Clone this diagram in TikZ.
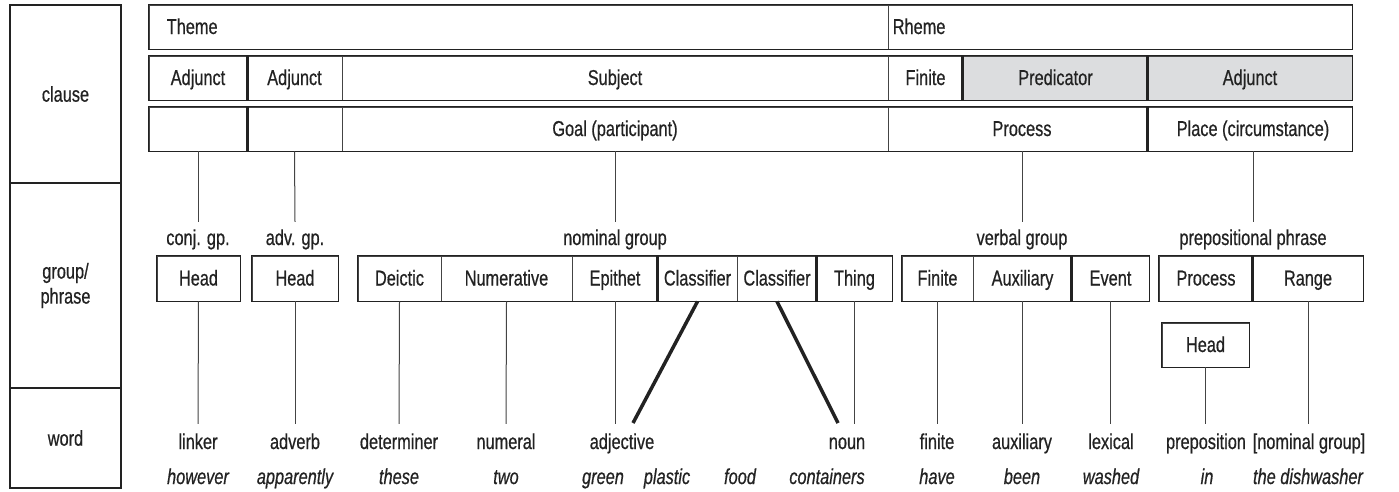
\documentclass[tikz,border=0pt]{standalone}
\usepackage{fontspec}
\setmainfont[FakeStretch=0.76,FakeBold=0.6]{Liberation Sans}
\definecolor{ink}{HTML}{222222}
\definecolor{thin}{HTML}{444444}
\definecolor{shade}{HTML}{DCDDDF}
\begin{document}
\begin{tikzpicture}[x=1pt,y=-1pt,
  font=\fontsize{21.5}{25}\selectfont,
  cell/.style={draw=thin, line width=0.9pt, inner sep=0pt, text height=14pt, text depth=0pt, text=ink},
  frame/.style={draw=ink, line width=1.5pt},
  thickdiv/.style={draw=ink, line width=3pt},
  conn/.style={draw=thin, line width=1pt},
  diag/.style={draw=ink, line width=3.5pt},
  side/.style={draw=ink, line width=1.5pt, inner sep=0pt, align=center, text=ink, minimum width=111pt},
  glbl/.style={anchor=base, text height=14pt, text depth=4pt, inner xsep=0pt, inner ysep=9pt, text=ink},
  wlbl/.style={anchor=base, text height=14pt, text depth=4pt, inner xsep=0pt, inner ysep=11pt, text=ink},
  ilbl/.style={anchor=base, inner sep=0pt, font=\fontsize{21.5}{25}\selectfont\itshape, text=ink},
  tlbl/.style={anchor=west, inner sep=0pt, text height=14pt, text depth=0pt, text=ink}
]
\useasboundingbox (0,0) rectangle (1399,491);

% left column
\node[side, minimum height=178pt] (lclause) at (65.5,94) {clause};
\node[side, minimum height=205pt] (lgroup) at (65.5,285.5) {group/\\phrase};
\node[side, minimum height=100pt] (lword) at (65.5,438) {word};

% row 1
\node[cell, minimum width=739pt, minimum height=44pt, label={[tlbl, xshift=18pt]west:Theme}] (theme) at (518.5,27) {};
\node[cell, minimum width=464pt, minimum height=44pt, label={[tlbl, xshift=5pt]west:Rheme}] (rheme) at (1120,27) {};
\draw[frame] (theme.north west) rectangle (rheme.south east);

% row 2
\node[cell, minimum width=98pt, minimum height=44pt] (adja) at (198,78) {Adjunct};
\node[cell, minimum width=95pt, minimum height=44pt] (adjb) at (294.5,78) {Adjunct};
\node[cell, minimum width=546pt, minimum height=44pt] (subj) at (615,78) {Subject};
\node[cell, minimum width=75pt, minimum height=44pt] (fin) at (925.5,78) {Finite};
\node[cell, fill=shade, minimum width=185pt, minimum height=44pt] (pred) at (1055.5,78) {Predicator};
\node[cell, fill=shade, minimum width=204pt, minimum height=44pt] (adjc) at (1250,78) {Adjunct};
\draw[frame] (adja.north west) rectangle (adjc.south east);
\draw[thickdiv] (adja.north east) -- (adja.south east);
\draw[thickdiv] (pred.north west) -- (pred.south west);
\draw[thickdiv] (adjc.north west) -- (adjc.south west);

% row 3
\node[cell, minimum width=98pt, minimum height=44pt] (ea) at (198,129) {};
\node[cell, minimum width=95pt, minimum height=44pt] (eb) at (294.5,129) {};
\node[cell, minimum width=546pt, minimum height=44pt] (goal) at (615,129) {Goal (participant)};
\node[cell, minimum width=260pt, minimum height=44pt] (proc) at (1018,129) {\hspace*{8pt}Process};
\node[cell, minimum width=204pt, minimum height=44pt] (place) at (1250,129) {\hspace*{6pt}Place (circumstance)};
\draw[frame] (ea.north west) rectangle (place.south east);
\draw[thickdiv] (ea.north east) -- (ea.south east);
\draw[thickdiv] (place.north west) -- (place.south west);

% group labels
\node[glbl] (cgp) at (198,245) {conj. gp.};
\node[glbl] (agp) at (295,245) {adv. gp.};
\node[glbl] (ngp) at (615,245) {nominal group};
\node[glbl] (vgp) at (1022,245) {verbal group};
\node[glbl] (pgp) at (1253,245) {prepositional phrase};

\draw[conn] (ea.south) -- (cgp.north);
\draw[conn] (eb.south) -- (agp.north);
\draw[conn] (goal.south) -- (ngp.north);
\draw[conn] (vgp.north |- proc.south) -- (vgp.north);
\draw[conn] (pgp.north |- place.south) -- (pgp.north);

% group boxes
\node[cell, minimum width=83pt, minimum height=45pt] (ha) at (198.5,278.5) {Head};
\draw[frame] (ha.north west) rectangle (ha.south east);
\node[cell, minimum width=86pt, minimum height=45pt] (hb) at (295,278.5) {Head};
\draw[frame] (hb.north west) rectangle (hb.south east);

\node[cell, minimum width=83pt, minimum height=45pt] (deic) at (399.5,278.5) {Deictic};
\node[cell, minimum width=131pt, minimum height=45pt] (num) at (506.5,278.5) {Numerative};
\node[cell, minimum width=86pt, minimum height=45pt] (epi) at (615,278.5) {Epithet};
\node[cell, minimum width=79pt, minimum height=45pt] (cla) at (697.5,278.5) {Classifier};
\node[cell, minimum width=80pt, minimum height=45pt] (clb) at (777,278.5) {Classifier};
\node[cell, minimum width=75pt, minimum height=45pt] (thing) at (854.5,278.5) {Thing};
\draw[frame] (deic.north west) rectangle (thing.south east);
\draw[thickdiv] (cla.north west) -- (cla.south west);
\draw[thickdiv] (thing.north west) -- (thing.south west);

\node[cell, minimum width=71pt, minimum height=45pt] (vfin) at (937.5,278.5) {Finite};
\node[cell, minimum width=99pt, minimum height=45pt] (aux) at (1022.5,278.5) {Auxiliary};
\node[cell, minimum width=77pt, minimum height=45pt] (event) at (1110.5,278.5) {Event};
\draw[frame] (vfin.north west) rectangle (event.south east);
\draw[thickdiv] (event.north west) -- (event.south west);

\node[cell, minimum width=94pt, minimum height=45pt] (pproc) at (1206,278.5) {Process};
\node[cell, minimum width=110pt, minimum height=45pt] (range) at (1308,278.5) {Range};
\draw[frame] (pproc.north west) rectangle (range.south east);
\draw[thickdiv] (range.north west) -- (range.south west);

\node[cell, minimum width=87pt, minimum height=44pt] (headp) at (1205.5,345) {Head};
\draw[frame] (headp.north west) rectangle (headp.south east);

% word labels
\node[wlbl] (wlinker) at (198,449) {linker};
\node[wlbl] (wadverb) at (295,449) {adverb};
\node[wlbl] (wdet) at (399,449) {determiner};
\node[wlbl] (wnum) at (506,449) {numeral};
\node[wlbl] (wadj) at (622,449) {adjective};
\node[wlbl] (wnoun) at (847,449) {noun};
\node[wlbl] (wfin) at (937,449) {finite};
\node[wlbl] (waux) at (1022,449) {auxiliary};
\node[wlbl] (wlex) at (1111,449) {lexical};
\node[wlbl] (wprep) at (1206,449) {preposition};
\node[wlbl] (wng) at (1309,449) {[nominal group]};

\draw[conn] (ha.south) -- (wlinker.north);
\draw[conn] (hb.south) -- (wadverb.north);
\draw[conn] (deic.south) -- (wdet.north);
\draw[conn] (num.south) -- (wnum.north);
\draw[conn] (epi.south) -- (epi.south |- wadj.north);
\draw[conn] (thing.south) -- (thing.south |- wnoun.north);
\draw[conn] (vfin.south) -- (vfin.south |- wfin.north);
\draw[conn] (aux.south) -- (aux.south |- waux.north);
\draw[conn] (event.south) -- (event.south |- wlex.north);
\draw[conn] (headp.south) -- (headp.south |- wprep.north);
\draw[conn] (range.south) -- (range.south |- wng.north);

\coordinate (da) at (633,423);
\coordinate (db) at (838,423);
\draw[diag] (cla.south) -- (da);
\draw[diag] (clb.south) -- (db);

% italic words
\node[ilbl] (ihowever) at (198,484) {however};
\node[ilbl] (iapparently) at (295,484) {apparently};
\node[ilbl] (ithese) at (399,484) {these};
\node[ilbl] (itwo) at (506,484) {two};
\node[ilbl] (igreen) at (603,484) {green};
\node[ilbl] (iplastic) at (667,484) {plastic};
\node[ilbl] (ifood) at (740,484) {food};
\node[ilbl] (icontainers) at (827,484) {containers};
\node[ilbl] (ihave) at (937,484) {have};
\node[ilbl] (ibeen) at (1022,484) {been};
\node[ilbl] (iwashed) at (1111,484) {washed};
\node[ilbl] (iin) at (1207,484) {in};
\node[ilbl] (idish) at (1308,484) {the dishwasher};
\end{tikzpicture}
\end{document}
